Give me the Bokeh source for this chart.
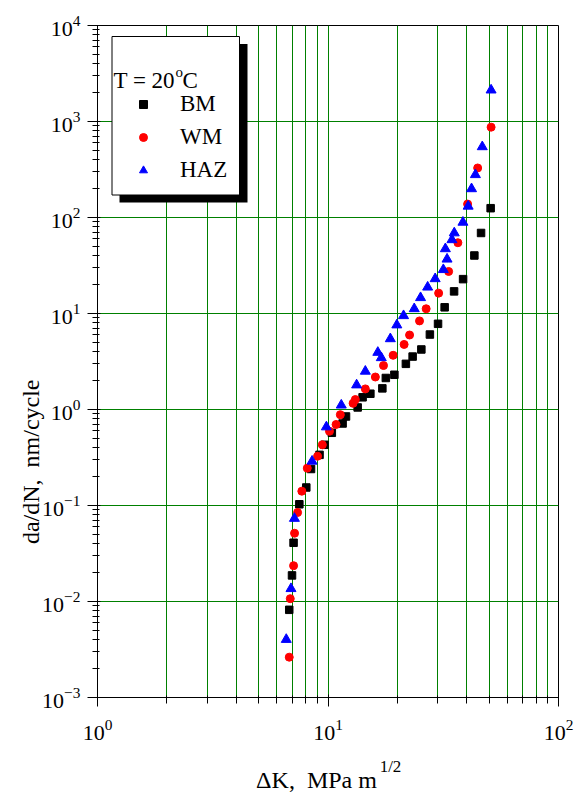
import numpy as np
from bokeh.plotting import figure
from bokeh.models import (Range1d, FixedTicker, LogTickFormatter, Label, LogAxis,
                          BoxAnnotation, Legend, LegendItem, CustomJSTickFormatter)
from bokeh.embed import file_html
from bokeh.resources import INLINE

# ---------------- data ----------------
bm_dk = [6.79, 6.98, 7.09, 7.51, 8.05, 8.44, 9.19, 9.66, 10.39, 11.57, 11.97, 13.45,
         14.13, 15.27, 17.21, 17.82, 19.41, 21.77, 23.29, 25.41, 27.67, 30.02, 32.07,
         35.24, 38.55, 43.15, 46.13, 50.77]
bm_dadn = [0.00819, 0.0187, 0.0409, 0.103, 0.154, 0.240, 0.337, 0.429, 0.572, 0.715,
           0.846, 1.05, 1.34, 1.46, 1.66, 2.13, 2.30, 2.99, 3.56, 4.22, 6.04, 7.81,
           11.6, 17.0, 22.8, 40.2, 69.0, 125]

wm_dk = [6.79, 6.86, 7.09, 7.16, 7.38, 7.70, 8.13, 9.01, 9.45, 10.15, 10.84, 11.31,
         12.85, 13.14, 14.52, 16.05, 17.41, 19.17, 21.39, 22.59, 24.95, 26.66, 30.2,
         33.37, 36.6, 40.33, 44.6, 51.0]
wm_dadn = [0.00263, 0.0107, 0.0236, 0.0514, 0.0845, 0.141, 0.245, 0.326, 0.429, 0.593,
           0.698, 0.883, 1.16, 1.27, 1.64, 2.18, 2.87, 3.67, 4.76, 5.97, 8.37, 11.2,
           16.3, 27.4, 54.6, 138, 328, 873]

haz_dk = [6.59, 6.91, 7.15, 8.53, 9.84, 11.42, 13.31, 14.52, 16.45, 17.03, 18.64,
          19.89, 21.27, 23.67, 25.21, 27.06, 29.17, 31.65, 32.85, 32.3, 34.5, 35.3,
          38.5, 40.55, 41.95, 43.6, 46.7, 51.0]
haz_dadn = [0.00402, 0.0136, 0.0733, 0.289, 0.658, 1.11, 1.80, 2.50, 3.93, 3.46, 5.45,
            7.59, 9.48, 11.2, 14.6, 18.8, 23.0, 28.6, 36.8, 47.2, 58.6, 69.0, 89.1,
            131, 199, 279, 545, 2124]

series_names = ["BM", "WM", "HAZ"]

x_major = [1, 10, 100]
x_minor = [m * d for d in (1, 10) for m in range(2, 10)]
y_major = [1e-3, 1e-2, 1e-1, 1e0, 1e1, 1e2, 1e3, 1e4]
y_minor = [m * d for d in y_major[:-1] for m in range(2, 10)]

legend_title = "T = 20"
x_label = "\u0394K, \u00a0MPa m"
x_label_sup = "1/2"
y_label = "da/dN, \u00a0nm/cycle"

# ---------------- layout ----------------
FONT = "Liberation Serif"
FL, FT, FR, FB = 97, 25, 558, 697   # frame edges in the page
X0, X1, Y0, Y1 = 1.0, 100.0, 1e-3, 1e4


def sx(cx):
    return cx - FL


def sy(cy):
    return FB - cy


def px_to_x(cx):   # page pixel -> x value (used only to place axis titles)
    return 10 ** (np.log10(X0) + (cx - FL) / (FR - FL) * np.log10(X1 / X0))


def py_to_y(cy):
    return 10 ** (np.log10(Y0) + (FB - cy) / (FB - FT) * np.log10(Y1 / Y0))


p = figure(width=574, height=795, x_axis_type="log", y_axis_type="log",
           x_range=Range1d(X0, X1), y_range=Range1d(Y0, Y1),
           output_backend="svg", toolbar_location=None,
           min_border_left=FL, min_border_right=574 - FR,
           min_border_top=FT, min_border_bottom=795 - FB,
           background_fill_color="white", border_fill_color="white",
           outline_line_color="black", outline_line_width=1)

for ax, maj, mnr in ((p.xaxis[0], x_major, x_minor), (p.yaxis[0], y_major, y_minor)):
    ax.ticker = FixedTicker(ticks=maj, minor_ticks=mnr)
    ax.formatter = LogTickFormatter()
    ax.axis_line_color = "black"
    ax.major_tick_line_color = "black"
    ax.minor_tick_line_color = "black"
    ax.major_label_text_color = "black"
    ax.major_label_text_font = FONT
    ax.major_label_text_font_size = "22px"
    ax.major_tick_in = 3
    ax.minor_tick_in = 2

p.xaxis.major_tick_out = 9
p.xaxis.minor_tick_out = 6
p.yaxis.major_tick_out = 10
p.yaxis.minor_tick_out = 5
p.xaxis.major_label_standoff = 13
p.yaxis.major_label_standoff = 7

p.xgrid.grid_line_color = "#008000"
p.xgrid.minor_grid_line_color = "#008000"
p.ygrid.grid_line_color = "#008000"
p.ygrid.minor_grid_line_color = None


def title_axis(cls, value, text, size, standoff, orientation="horizontal", lh=1.2):
    return cls(ticker=FixedTicker(ticks=[value], minor_ticks=[]),
               formatter=CustomJSTickFormatter(args=dict(t=text), code="return t"),
               axis_line_color=None, major_tick_line_color=None,
               minor_tick_line_color=None, major_tick_out=0, major_tick_in=0,
               minor_tick_out=0, minor_tick_in=0,
               major_label_text_font=FONT, major_label_text_font_size=size,
               major_label_text_color="black", major_label_standoff=standoff,
               major_label_text_line_height=lh,
               major_label_orientation=orientation)


# axis titles drawn as single tick labels of extra, line-less axes
p.add_layout(title_axis(LogAxis, px_to_x(390), x_label_sup, "17px", 14), "below")
p.add_layout(title_axis(LogAxis, px_to_x(316), x_label, "24px", -12), "below")
p.add_layout(title_axis(LogAxis, py_to_y(379), y_label, "24px", 9, np.pi / 2, 1.0),
             "left")

r_bm = p.scatter(bm_dk, bm_dadn, marker="square", size=7.5, color="black")
r_wm = p.scatter(wm_dk, wm_dadn, marker="circle", size=8, color="red")
r_haz = p.scatter(haz_dk, haz_dadn, marker="triangle", size=10, color="blue")

# legend box with shadow
p.add_layout(BoxAnnotation(left=sx(119), right=sx(247), top=sy(43.5), bottom=sy(202),
                           left_units="screen", right_units="screen",
                           top_units="screen", bottom_units="screen",
                           fill_color="black", fill_alpha=1, line_alpha=0))
p.add_layout(BoxAnnotation(left=sx(111.5), right=sx(239), top=sy(36), bottom=sy(194.5),
                           left_units="screen", right_units="screen",
                           top_units="screen", bottom_units="screen",
                           fill_color="white", fill_alpha=1, line_color="black",
                           line_width=1, line_alpha=1))

legend = Legend(items=[LegendItem(label=n, renderers=[r]) for n, r in
                       zip(series_names, [r_bm, r_wm, r_haz])],
                location=(sx(133), sy(183)), padding=0, margin=0, spacing=7,
                glyph_width=20, glyph_height=26, label_height=26, label_standoff=27,
                label_text_font=FONT, label_text_font_size="23px",
                label_text_color="black", background_fill_alpha=0,
                border_line_alpha=0)
p.add_layout(legend)

common = dict(x_units="screen", y_units="screen", text_font=FONT, text_color="black")
p.add_layout(Label(x=sx(113), y=sy(80), text=legend_title, text_font_size="23px",
                   text_baseline="alphabetic", text_align="left", **common))
p.add_layout(Label(x=sx(175), y=sy(71), text="o", text_font_size="15px",
                   text_baseline="alphabetic", text_align="left", **common))
p.add_layout(Label(x=sx(182), y=sy(80), text="C", text_font_size="23px",
                   text_baseline="alphabetic", text_align="left", **common))

open("out.html", "w").write(file_html(p, INLINE))
